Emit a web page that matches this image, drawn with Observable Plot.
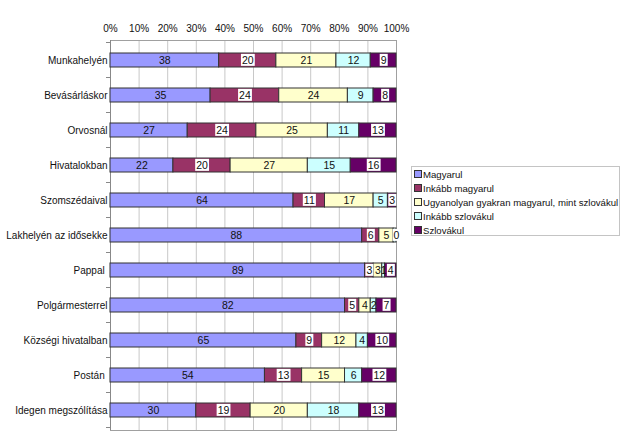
<!DOCTYPE html>
<html>
<head>
<meta charset="utf-8">
<script src="https://cdn.jsdelivr.net/npm/d3@7"></script>
<script src="https://cdn.jsdelivr.net/npm/@observablehq/plot@0.6"></script>
<style>
  body { margin: 0; background: #fff; font-family: "Liberation Sans", Arial, sans-serif; }
  #wrap { position: relative; width: 640px; height: 435px; }
  #legend { position: absolute; left: 411px; top: 166px; width: 209px; height: 70px;
    border: 1px solid #c4c4c4; background: #fff; font-size: 9.6px; color: #111; box-sizing: border-box; padding-top: 1px; }
  #legend .item { height: 14px; line-height: 14px; white-space: nowrap; padding-left: 2px; }
  #legend .sw { display: inline-block; width: 6px; height: 6px; border: 1px solid #333; margin-right: 1px; vertical-align: 0px; }
</style>
</head>
<body>
<div id="wrap"><div id="chart"></div><div id="legend"></div></div>
<script>
const categories = ["Munkahelyén", "Bevásárláskor", "Orvosnál", "Hivatalokban", "Szomszédaival",
  "Lakhelyén az idősekke", "Pappal ", "Polgármesterrel", "Községi hivatalban", "Postán ", "Idegen megszólítása"];
const series = ["Magyarul", "Inkább magyarul", "Ugyanolyan gyakran magyarul, mint szlovákul", "Inkább szlovákul", "Szlovákul"];
const colors = ["#9999FF", "#993366", "#FFFFCC", "#CCFFFF", "#660066"];
const darkSeries = ["Inkább magyarul", "Szlovákul"];
const magyarul        = [38, 35, 27, 22, 64, 88, 89, 82, 65, 54, 30];
const inkabbMagyarul  = [20, 24, 24, 20, 11, 6, 3, 5, 9, 13, 19];
const ugyanolyan      = [21, 24, 25, 27, 17, 5, 3, 4, 12, 15, 20];
const inkabbSzlovakul = [12, 9, 11, 15, 5, 1, 1, 2, 4, 6, 18];
const szlovakul       = [9, 8, 13, 16, 3, 0, 4, 7, 10, 12, 13];
const xTicks = [0, 10, 20, 30, 40, 50, 60, 70, 80, 90, 100];

const seriesValues = [magyarul, inkabbMagyarul, ugyanolyan, inkabbSzlovakul, szlovakul];
const rows = [];
categories.forEach((cat, i) => {
  series.forEach((s, j) => rows.push({cat, series: s, value: seriesValues[j][i]}));
});

const boundaryTicks = (index, scales, values, dimensions) => {
  const y = scales.y, x = scales.x;
  const bw = typeof y.bandwidth === "function" ? y.bandwidth() : y.bandwidth;
  const starts = categories.map(c => y(c));
  const step = starts[1] - starts[0];
  const x0 = x(0);
  const g = d3.create("svg:g");
  const ys = starts.map(s => s + bw / 2 - step / 2);
  ys.push(starts[starts.length - 1] + bw / 2 + step / 2);
  ys.forEach(v => g.append("line").attr("x1", x0 - 4).attr("x2", x0).attr("y1", v).attr("y2", v).attr("stroke", "#888"));
  return g.node();
};

const DARK_LABEL_FILL = "#101010";

const chart = Plot.plot({
  width: 640,
  height: 435,
  marginTop: 40,
  marginBottom: 5,
  marginLeft: 110,
  marginRight: 244,
  style: {fontFamily: "'Liberation Sans', Arial, sans-serif", fontSize: "10px", color: "#111", background: "#fff"},
  x: {domain: [0, 100], axis: "top", ticks: xTicks, tickFormat: d => d + "%", tickSize: 0, tickPadding: 9, label: null},
  y: {domain: categories, paddingInner: 0.6, paddingOuter: 0.3, tickSize: 0, tickPadding: 3, label: null},
  color: {domain: series, range: colors},
  marks: [
    Plot.ruleX(xTicks.filter(d => d > 0 && d < 100), {stroke: "#c8c8c8"}),
    Plot.frame({stroke: "#a0a0a0"}),
    Plot.ruleX([0], {stroke: "#888"}),
    boundaryTicks,
    Plot.barX(rows, {x: "value", y: "cat", fill: "series", stroke: "#333", strokeWidth: 1}),
    Plot.text(rows, Plot.stackX({x: "value", y: "cat", z: "series",
      text: d => darkSeries.includes(d.series) ? null : String(d.value), fill: "#111111", fontSize: 10.5})),
    Plot.text(rows, Plot.stackX({x: "value", y: "cat", z: "series",
      text: d => darkSeries.includes(d.series) ? String(d.value) : null, fill: DARK_LABEL_FILL, fontSize: 10.5}))
  ]
});
document.getElementById("chart").appendChild(chart);

// white label boxes behind labels on dark segments
const darkTexts = [];
chart.querySelectorAll("g").forEach(g => {
  const f = (g.getAttribute("fill") || "").toLowerCase();
  if (f === DARK_LABEL_FILL) g.querySelectorAll("text").forEach(t => darkTexts.push(t));
});
chart.querySelectorAll("text").forEach(t => {
  const f = (t.getAttribute("fill") || "").toLowerCase();
  if (f === DARK_LABEL_FILL && !darkTexts.includes(t)) darkTexts.push(t);
});
darkTexts.forEach(t => {
  const b = t.getBBox();
  const r = document.createElementNS("http://www.w3.org/2000/svg", "rect");
  r.setAttribute("x", b.x - 1);
  r.setAttribute("width", b.width + 2);
  r.setAttribute("y", b.y + b.height / 2 - 6);
  r.setAttribute("height", 12);
  r.setAttribute("fill", "#fff");
  r.setAttribute("stroke", "none");
  if (t.getAttribute("transform")) r.setAttribute("transform", t.getAttribute("transform"));
  t.parentNode.insertBefore(r, t);
});

const legend = d3.select("#legend");
series.forEach((s, i) => {
  const it = legend.append("div").attr("class", "item");
  it.append("span").attr("class", "sw").style("background", colors[i]);
  it.append("span").text(s);
});
</script>
</body>
</html>
